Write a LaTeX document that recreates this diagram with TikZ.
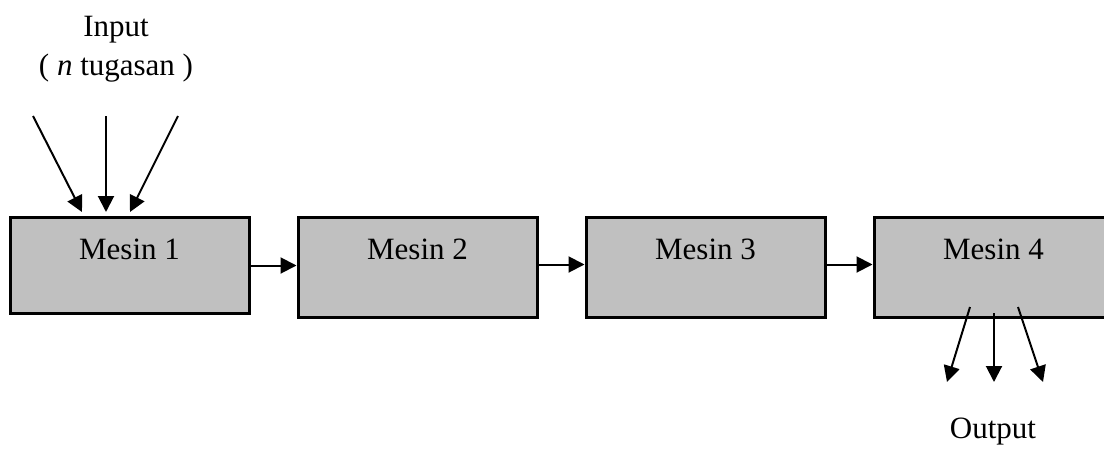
\documentclass[tikz,border=0pt]{standalone}
\usepackage{fontspec}
\setmainfont{Liberation Serif}
\usetikzlibrary{arrows.meta}
\definecolor{mesingray}{RGB}{192,192,192}

\begin{document}
\begin{tikzpicture}[x=0.5pt,y=-0.5pt,
        every node/.style={font=\fontsize{15.5}{19.5}\selectfont},
        mesin/.style={draw,line width=1.5pt,fill=mesingray,inner sep=0pt,anchor=north,
            minimum width=119.5pt,text height=21pt,text depth=29pt},
        flow/.style={-{Triangle[length=8pt,width=8pt]},line width=1pt}]
        
        \useasboundingbox (0,0) rectangle (1104,450);
        
        % mesin
        \node[mesin,text depth=27pt] (m1) at (129.5,216) {Mesin 1};
        \node[mesin] (m2) at (417.5,216) {Mesin 2};
        \node[mesin] (m3) at (705.5,216) {Mesin 3};
        \node[mesin] (m4) at (993.5,216) {Mesin 4};
        
        \draw[flow] (m1.east) -- (m1.east -| m2.west);
        \draw[flow] ([yshift=1.5pt]m2.east) -- ([yshift=1.5pt]m3.west);
        \draw[flow] ([yshift=1.5pt]m3.east) -- ([yshift=1.5pt]m4.west);
        
        % input
        \node[align=center,anchor=base] (inp) at (116,75) {Input\\( \textit{n} tugasan )};
        \coordinate (inA) at (33,116);
        \coordinate (inB) at (106,116);
        \coordinate (inC) at (178,116);
        \coordinate (inA') at (82,212);
        \coordinate (inB') at (106,212);
        \coordinate (inC') at (130,212);
        \draw[flow] (inA) -- (inA');
        \draw[flow] (inB) -- (inB');
        \draw[flow] (inC) -- (inC');
        
        % output
        \coordinate (outA) at (970,307);
        \coordinate (outB) at (994,313);
        \coordinate (outC) at (1018,307);
        \coordinate (outA') at (947,382);
        \coordinate (outB') at (994,382);
        \coordinate (outC') at (1043,382);
        \draw[flow] (outA) -- (outA');
        \draw[flow] (outB) -- (outB');
        \draw[flow] (outC) -- (outC');
        \node[anchor=base] (out) at (993,438) {Output};
        
        \end{tikzpicture}
\end{document}
